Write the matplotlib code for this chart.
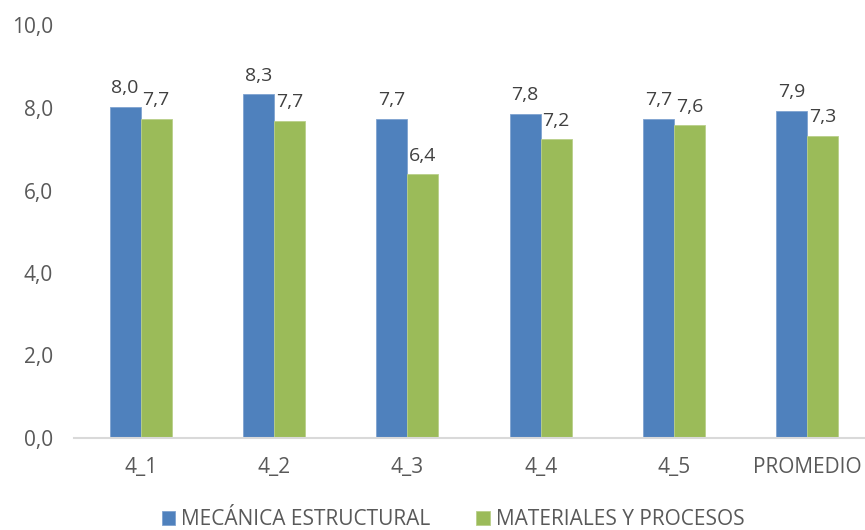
import matplotlib
matplotlib.use("Agg")
import matplotlib.pyplot as plt
import numpy as np

categories = ["4_1", "4_2", "4_3", "4_4", "4_5", "PROMEDIO"]
mecanica = [8.03, 8.33, 7.73, 7.85, 7.73, 7.93]
materiales = [7.73, 7.69, 6.39, 7.24, 7.58, 7.33]
series_names = ["MECÁNICA ESTRUCTURAL", "MATERIALES Y PROCESOS"]
yticks = [0, 2, 4, 6, 8, 10]

plt.rcParams["font.family"] = ["Open Sans", "DejaVu Sans"]

W, H = 865, 530
fig = plt.figure(figsize=(W / 100, H / 100), dpi=100)
ax = fig.add_axes([74 / W, (H - 438) / H, 800 / W, (438 - 25.5) / H])

x = np.arange(len(categories))
bw = 0.233
blue = "#4F81BD"
green = "#9BBB59"
b1 = ax.bar(x - bw / 2, mecanica, bw, color=blue, edgecolor="#7FA3D0", linewidth=0.6,
            label=series_names[0])
b2 = ax.bar(x + bw / 2, materiales, bw, color=green, edgecolor="#B9D08A", linewidth=0.6,
            label=series_names[1])

fmt = lambda v: f"{v:.1f}".replace(".", ",")
for bars, vals in ((b1, mecanica), (b2, materiales)):
    for rect, v in zip(bars, vals):
        ax.annotate(fmt(v), (rect.get_x() + rect.get_width() / 2, v),
                    xytext=(0, 7), textcoords="offset points",
                    ha="center", va="bottom", fontsize=14, color="#404040")

ax.set_xlim(-0.5, len(categories) - 0.5)
ax.set_ylim(0, 10)
ax.set_yticks(yticks)
ax.set_yticklabels([fmt(v) for v in yticks])
ax.set_xticks(x)
ax.set_xticklabels(categories)
ax.tick_params(axis="both", length=0, labelsize=15, colors="#595959")
ax.tick_params(axis="x", pad=14)
ax.tick_params(axis="y", pad=15)

for s in ("top", "right", "left"):
    ax.spines[s].set_visible(False)
ax.spines["bottom"].set_color("#D9D9D9")
ax.spines["bottom"].set_linewidth(1.5)

leg = fig.legend(handles=[b1, b2], labels=series_names, loc="center",
                 bbox_to_anchor=(0.524, 0.019), ncol=2, frameon=False,
                 fontsize=15, handlelength=0.65, handleheight=0.65,
                 handletextpad=0.3, columnspacing=2.2)
for t in leg.get_texts():
    t.set_color("#595959")

fig.savefig("out.png", dpi=100)
